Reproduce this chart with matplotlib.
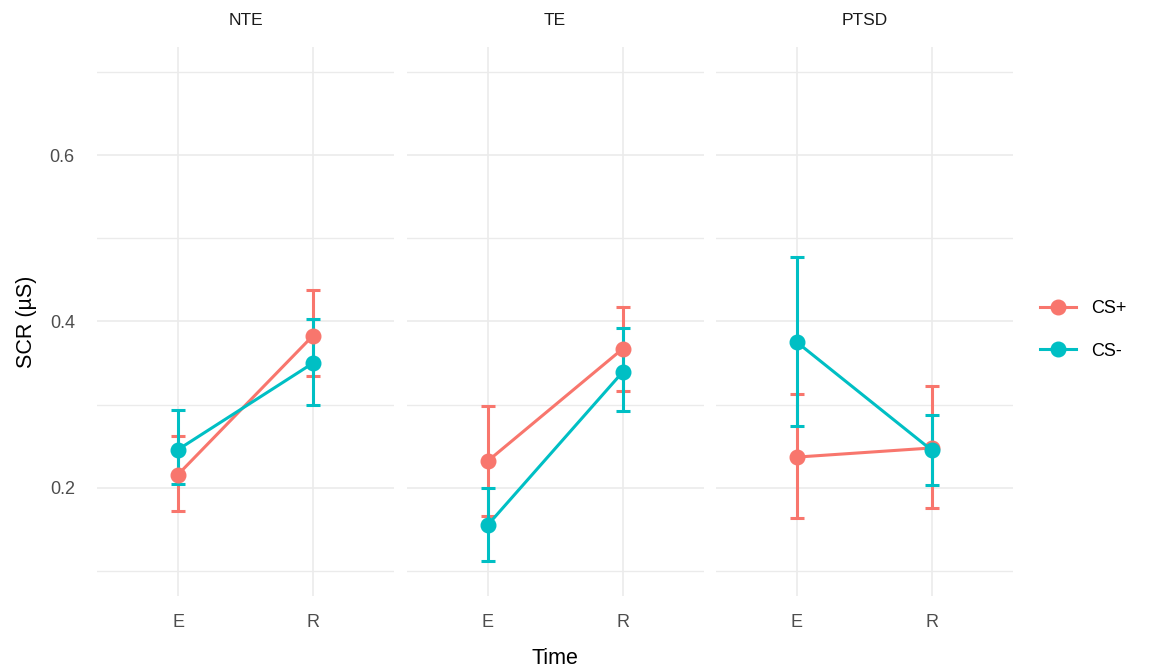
import matplotlib.pyplot as plt
import numpy as np

plt.rcParams['font.family'] = ['Liberation Sans', 'DejaVu Sans']

# data
groups = ["NTE", "TE", "PTSD"]
times = ["E", "R"]

cs_plus_mean = {"NTE": [0.216, 0.383], "TE": [0.232, 0.367], "PTSD": [0.237, 0.248]}
cs_plus_lo = {"NTE": [0.172, 0.335], "TE": [0.166, 0.317], "PTSD": [0.164, 0.176]}
cs_plus_hi = {"NTE": [0.262, 0.438], "TE": [0.299, 0.418], "PTSD": [0.313, 0.323]}

cs_minus_mean = {"NTE": [0.246, 0.350], "TE": [0.155, 0.339], "PTSD": [0.375, 0.245]}
cs_minus_lo = {"NTE": [0.205, 0.300], "TE": [0.112, 0.292], "PTSD": [0.274, 0.204]}
cs_minus_hi = {"NTE": [0.294, 0.403], "TE": [0.200, 0.392], "PTSD": [0.478, 0.287]}

red = "#F8766D"
teal = "#00BFC4"
grid_col = "#ebebeb"
txt_col = "#4d4d4d"

fig = plt.figure(figsize=(11.71, 6.68), dpi=100)

left0 = 97 / 1171
pw = 297 / 1171
step = 309.5 / 1171
bottom = 72 / 668
ph = 549 / 668

x = np.arange(len(times))
axes = []
for i, g in enumerate(groups):
    ax = fig.add_axes([left0 + i * step, bottom, pw, ph])
    axes.append(ax)
    for mean, lo, hi, col, lab in [
        (cs_plus_mean, cs_plus_lo, cs_plus_hi, red, "CS+"),
        (cs_minus_mean, cs_minus_lo, cs_minus_hi, teal, "CS-"),
    ]:
        m = np.array(mean[g])
        err = [m - np.array(lo[g]), np.array(hi[g]) - m]
        ax.errorbar(x, m, yerr=err, fmt="none", ecolor=col, elinewidth=2.2,
                    capsize=5, capthick=2.2, zorder=3)
        ax.plot(x, m, color=col, lw=2.2, marker="o", markersize=10.5,
                label=lab, zorder=4)
    ax.set_xlim(-0.6, 1.6)
    ax.set_ylim(0.07, 0.73)
    ax.set_xticks(x)
    ax.set_xticklabels(times)
    ax.set_yticks([0.2, 0.4, 0.6])
    ax.set_yticks([0.1, 0.3, 0.5, 0.7], minor=True)
    ax.grid(True, which="major", color=grid_col, lw=1.2, zorder=0)
    ax.grid(True, which="minor", axis="y", color=grid_col, lw=1.0, zorder=0)
    for s in ax.spines.values():
        s.set_visible(False)
    ax.tick_params(which="both", length=0, labelsize=13, labelcolor=txt_col)
    ax.tick_params(axis="x", pad=13)
    ax.tick_params(axis="y", pad=16)
    ax.set_axisbelow(True)
    ax.set_title(g, fontsize=12.5, color="#1a1a1a", pad=16)
    if i == 0:
        ax.set_yticklabels(["0.2", "0.4", "0.6"])
        ax.set_ylabel("SCR (µS)", fontsize=15.5, labelpad=9)
    else:
        ax.set_yticklabels([])
    if i == 1:
        ax.set_xlabel("Time", fontsize=15.5, labelpad=12)

handles, labels = axes[0].get_legend_handles_labels()
fig.legend(handles, labels, loc="center left", bbox_to_anchor=(1024 / 1171, 1 - 330 / 668),
           frameon=False, fontsize=13, handlelength=2, labelspacing=1.4)

fig.savefig("out.png", dpi=100)
